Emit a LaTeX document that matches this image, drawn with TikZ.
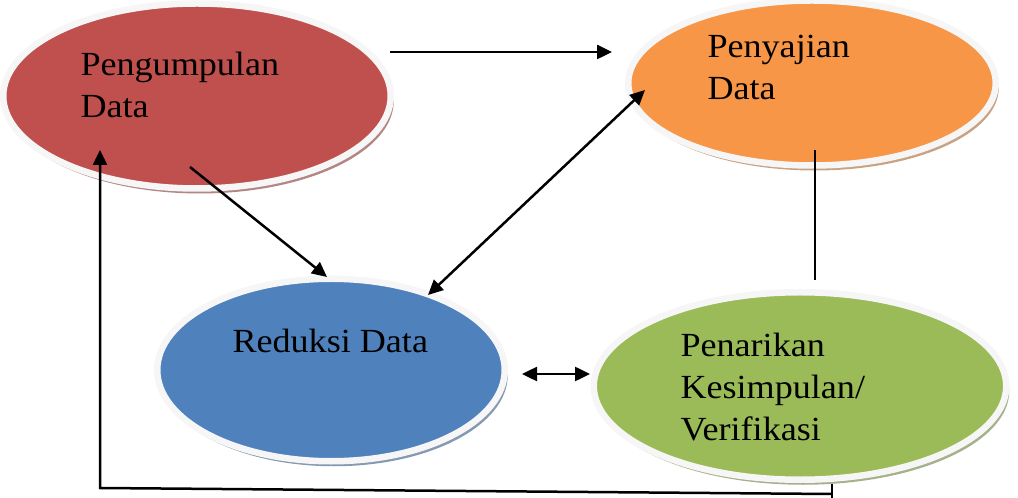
\documentclass[tikz,border=0pt]{standalone}
\usepackage{fontspec}
\setmainfont[FakeStretch=1.07]{Liberation Serif}
\usetikzlibrary{calc,shapes.geometric,shadows,arrows.meta}

\definecolor{redfill}{HTML}{C0504D}
\definecolor{orangefill}{HTML}{F79646}
\definecolor{bluefill}{HTML}{4F81BD}
\definecolor{greenfill}{HTML}{9BBB59}

\begin{document}
\begin{tikzpicture}[x=0.4pt,y=-0.4pt,
    bubble/.style={ellipse, draw=white!93!gray, line width=2.6pt, fill=#1, inner sep=0pt,
        drop shadow={shadow xshift=1.2pt, shadow yshift=-2pt, fill=#1!50!gray, opacity=.8}},
    caption/.style={anchor=base west, align=left, inner sep=0pt,
        font=\fontsize{13.5}{16.8}\selectfont},
    flow/.style={-{Triangle[length=6pt,width=5.6pt]}, line width=1pt},
    both/.style={{Triangle[length=6pt,width=5.6pt]}-{Triangle[length=6pt,width=5.6pt]}, line width=1pt}]

        \useasboundingbox (0,0) rectangle (1018,498);

        % Stages
        \node (pengumpulan) at (197,96) [bubble=redfill, minimum width=155pt, minimum height=74pt] {};
        \node (penyajian) at (812,83) [bubble=orangefill, minimum width=147pt, minimum height=66pt] {};
        \node (reduksi) at (331,370) [bubble=bluefill, minimum width=139pt, minimum height=73pt] {};
        \node (penarikan) at (800,386) [bubble=greenfill, minimum width=165pt, minimum height=75pt] {};

        % Texts (base = last line)
        \node at ($(pengumpulan) + (-117,22)$) [caption] {Pengumpulan\\Data};
        \node at ($(penyajian) + (-105,17)$) [caption] {Penyajian\\Data};
        \node at ($(reduksi) + (-99,-17)$) [caption] {Reduksi Data};
        \node at ($(penarikan) + (-120,54)$) [caption] {Penarikan\\Kesimpulan/\\Verifikasi};

        % Connectors
        \draw [flow] ($(pengumpulan) + (193,-44)$) -- ($(penyajian) + (-200,-31)$);
        \draw [flow] ($(pengumpulan) + (-7,71)$) -- ($(reduksi) + (-4,-93)$);
        \draw [both] ($(reduksi) + (97,-75)$) -- ($(penyajian) + (-167,7)$);
        \draw [both] ($(reduksi) + (191,4)$) -- ($(penarikan) + (-210,-12)$);
        \draw [line width=0.5pt] ($(penyajian) + (3,67)$) -- ($(penarikan) + (15,-106)$);

        % Back to the start
        \coordinate (tick) at ($(penarikan) + (32,98)$);
        \coordinate (corner) at (100,488);
        \draw [line width=0.5pt] (tick) -- ($(tick) + (0,14)$);
        \draw [flow] ($(tick) + (0,10)$) -- (corner) -- ($(pengumpulan) + (-97,54)$);

\end{tikzpicture}
\end{document}
